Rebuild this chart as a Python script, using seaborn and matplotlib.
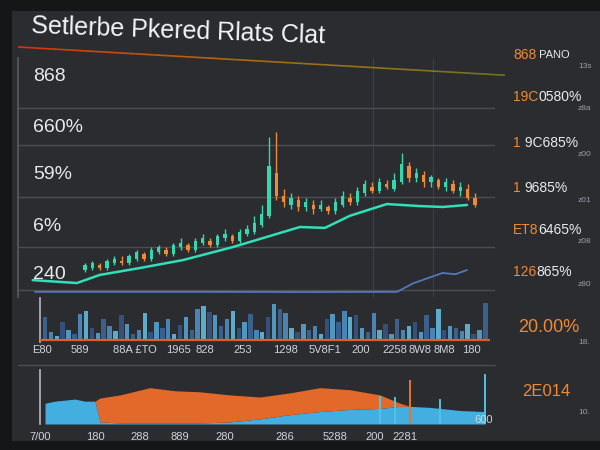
import numpy as np
import pandas as pd
import matplotlib
matplotlib.use("Agg")
import matplotlib.pyplot as plt
from matplotlib.patches import Rectangle
from matplotlib.collections import LineCollection
import seaborn as sns

title = "Setlerbe Pkered Rlats Clat"

# top panel - candles (index, value units)
c_open  = [9, 10, 11, 10, 12, 13, 12, 14, 16, 14, 17, 18, 16, 19, 20, 18, 21, 22, 20, 23,
           24, 22, 25, 26, 29, 33, 52, 42, 38, 40, 37, 38, 36, 37, 35, 38, 41, 39, 43, 46,
           44, 47, 45, 48, 55, 50, 51, 48, 49, 46, 47, 44, 45, 41]
c_close = [11, 12, 10, 13, 14, 12, 15, 17, 14, 18, 19, 16, 20, 21, 18, 22, 23, 20, 24, 25,
           22, 26, 27, 30, 34, 55, 42, 39, 41, 37, 39, 36, 38, 35, 39, 42, 39, 44, 47, 44,
           48, 46, 49, 56, 50, 52, 48, 50, 46, 48, 44, 46, 41, 38]
c_high  = [12, 13, 12, 14, 15, 15, 16, 18, 17, 19, 20, 19, 21, 23, 21, 23, 25, 23, 25, 27,
           25, 27, 29, 33, 38, 68, 70, 45, 43, 42, 41, 40, 40, 38, 41, 44, 43, 46, 49, 48,
           50, 49, 52, 61, 57, 54, 53, 51, 50, 50, 49, 48, 47, 43]
c_low   = [8, 9, 9, 9, 11, 11, 11, 13, 13, 13, 16, 15, 15, 18, 17, 17, 20, 19, 19, 22,
           21, 21, 24, 25, 28, 32, 40, 37, 36, 35, 35, 34, 35, 34, 34, 37, 38, 38, 42, 43,
           43, 45, 44, 47, 48, 48, 46, 46, 45, 44, 43, 42, 40, 37]

ma_x = [-7.1, -1.1, 2.0, 7.5, 13.3, 20.1, 24.7, 29.2, 32.6, 36.0, 41.0, 45.5, 48.6, 51.9]
ma_v = [4.4, 3.1, 6.7, 9.8, 13.3, 19.1, 23.6, 28.0, 27.6, 33.0, 38.2, 37.3, 36.9, 37.8]

blue_x = [-6.8, 15.6, 30.0, 42.4, 44.6, 48.6, 50.3, 51.9]
blue_v = [-0.8, -0.8, -0.9, -0.8, 3.0, 7.6, 7.0, 8.9]

y_labels = ["868", "660%", "59%", "6%", "240"]
y_label_pos = [95.6, 73.3, 52.0, 29.3, 8.0]
y_grid = [80.9, 64.4, 41.3, 19.1, 0.0]

# right column readouts
right_pre = ["868", "19C", "1", "1 ", "ET8", "126"]
right_suf = [" PANO", "0580%", " 9C685%", "9685%", "6465%", "865%"]
right_small = ["13s", "z8a", "z00", "z01", "z08", "z80"]

# middle panel - bars
mid_vals = [22, 8, 5, 18, 10, 6, 25, 28, 12, 7, 20, 14, 9, 24, 16, 6, 10, 26, 8, 18,
            12, 20, 6, 15, 22, 10, 30, 33, 27, 24, 14, 20, 28, 12, 18, 25, 10, 8, 22, 34,
            30, 26, 12, 8, 16, 10, 14, 6, 20, 25, 18, 28, 22, 24, 12, 8, 26, 10, 16, 6,
            20, 10, 14, 18, 8, 24, 12, 30, 10, 14, 12, 9, 16, 6, 10, 35]
mid_labels = ["E80", "589", "88A £TO", "1965", "828", "253", "1298", "5V8F1", "200",
              "2258", "8W8", "8M8", "180"]
mid_label_pos = [-0.5, 6, 15.3, 22.7, 27.3, 33.7, 40.9, 47.7, 53.7, 59.6, 63.9, 68.1, 72.7]

# bottom panel - areas
bot_x      = [45, 55, 65, 75, 85, 95, 100, 120, 150, 175, 200, 230, 260, 290, 320, 350,
              380, 400, 410, 430, 460, 485]
bot_blue   = [20, 22, 23, 24, 22, 22, 2, 1, 1, 1, 1, 2, 5, 9, 12, 14, 15, 17, 17, 16, 13, 12]
bot_orange = [20, 22, 23, 24, 22, 22, 25, 28, 35, 32, 31, 28, 26, 30, 35, 33, 28, 20, 17, 16, 13, 12]
spike_x = [380, 395, 410, 440, 485]
spike_h = [27, 26, 42, 24, 48]
spike_c = ["#4fc3e6", "#4fc3e6", "#e8742e", "#4fc3e6", "#4fc3e6"]
bot_labels = ["7/00", "180", "288", "889", "280", "286", "5288", "200", "2281"]
bot_label_pos = [40, 95, 140, 180, 225, 285, 335, 375, 405]

BG = "#2a2c30"
GRID = "#4a4d53"
TXT = "#e8eaee"
ORANGE = "#f08a32"
TEAL = "#33d8ac"

sns.set_theme(style="dark")
plt.rcParams["font.family"] = ["Liberation Sans", "DejaVu Sans"]

W, H = 600, 450
fig = plt.figure(figsize=(6, 4.5), dpi=100, facecolor="#151618")


def box(l, t, r, b):
    return [l / W, 1 - b / H, (r - l) / W, (b - t) / H]


fig.add_artist(Rectangle((12 / W, 0.02), 1, 0.955, transform=fig.transFigure,
                         facecolor=BG, edgecolor="none", zorder=-5))

fig.text(31 / W, 1 - 31 / H, title, color="#f4f5f7", fontsize=18, va="center",
         rotation=-2)

# orange header line
xs = np.linspace(18, 505, 30)
ys = 47 + (xs - 18) * 0.058
pts = np.column_stack([xs / W, 1 - ys / H])
segs = np.stack([pts[:-1], pts[1:]], axis=1)
cols = plt.get_cmap("autumn")(np.linspace(0.2, 0.95, len(segs)))
cols[:, 3] = np.linspace(0.85, 0.35, len(segs))
fig.add_artist(LineCollection(segs, colors=cols, linewidths=1.2, transform=fig.transFigure))

# --- top panel
ax = fig.add_axes(box(18, 58, 495, 297))
ax.set_facecolor("none")
idx = np.arange(len(c_open))
up = [c >= o for o, c in zip(c_open, c_close)]
colors = [TEAL if u else ORANGE for u in up]
ax.vlines(idx, c_low, c_high, colors=colors, lw=1.0, zorder=3)
ax.bar(idx, np.array(c_close) - np.array(c_open), bottom=c_open, width=0.45,
       color=colors, linewidth=0, zorder=3)
sns.lineplot(x=ma_x, y=ma_v, color="#2fe0b8", lw=1.8, ax=ax, zorder=4)
sns.lineplot(x=blue_x, y=blue_v, color="#5577bb", lw=1.3, ax=ax, zorder=2)
ax.set_xlim(-9.1, 55.7)
ax.set_ylim(-3.1, 103.1)
ax.set_yticks(y_label_pos, y_labels)
ax.set_yticks(y_grid, minor=True)
ax.tick_params(axis="y", which="both", length=0, pad=-11, labelcolor=TXT, labelsize=14)
for t in ax.get_yticklabels():
    t.set_ha("left")
ax.set_xticks([(373 - 85) / 7.36, (433 - 85) / 7.36])
ax.tick_params(axis="x", length=0, labelbottom=False)
ax.grid(False)
ax.grid(True, which="minor", axis="y", color=GRID, lw=1)
ax.grid(True, which="major", axis="x", color="#3c3f44", lw=0.8)
for s in ["top", "right", "bottom"]:
    ax.spines[s].set_visible(False)
ax.spines["left"].set_color("#55585e")
ax.set_xlabel("")
ax.set_ylabel("")

# right column readouts
for i, (p, s, sm) in enumerate(zip(right_pre, right_suf, right_small)):
    y = 1 - [55, 97, 143, 188, 230, 272][i] / H
    t = fig.text(513 / W, y, p, color=ORANGE, fontsize=10, va="center")
    ax.annotate(s, xy=(1, 0.5), xycoords=t, va="center", color=TXT,
                fontsize=10 if i else 8)
    fig.text(578 / W, y - 12 / H, sm, color="#9a9ea6", fontsize=6, va="center")

fig.text(518 / W, 1 - 328 / H, "20.00%", color=ORANGE, fontsize=13, va="center")
fig.text(578 / W, 1 - 342 / H, "18.", color="#9a9ea6", fontsize=6, va="center")
fig.text(522 / W, 1 - 392 / H, "2E014", color=ORANGE, fontsize=12, va="center")
fig.text(578 / W, 1 - 412 / H, "10.", color="#9a9ea6", fontsize=6, va="center")

# separator line
fig.add_artist(plt.Line2D([18 / W, 495 / W], [1 - 365 / H] * 2, color=GRID, lw=1,
                          transform=fig.transFigure))

# --- middle panel
ax2 = fig.add_axes(box(40, 298, 490, 342))
ax2.set_facecolor("none")
midx = list(range(len(mid_vals)))
blues = ["#2e5f9a", "#3a86c4", "#4bb3dc", "#2a4f86", "#3f9bd0"]
pal = [blues[i % len(blues)] for i in midx]
sns.barplot(x=midx, y=mid_vals, hue=[str(i) for i in midx], palette=pal,
            legend=False, width=0.75, linewidth=0, edgecolor="none", ax=ax2, zorder=3)
ax2.axhline(1, color="#d9622c", lw=1.6, zorder=4)
ax2.set_xlim(-0.85, 75.8)
ax2.set_ylim(-1, 40)
ax2.set_xticks(mid_label_pos, mid_labels)
ax2.tick_params(axis="x", length=0, labelsize=8, labelcolor="#cfd3d8", pad=2)
ax2.set_yticks([])
ax2.grid(False)
for s in ["top", "right", "bottom"]:
    ax2.spines[s].set_visible(False)
ax2.spines["left"].set_color("#aeb3ba")
ax2.set_xlabel("")
ax2.set_ylabel("")

# --- bottom panel
ax3 = fig.add_axes(box(40, 370, 495, 424))
ax3.set_facecolor("none")
bx = np.array(bot_x)
bb = np.array(bot_blue)
bo = np.array(bot_orange)
ax3.fill_between(bx, 0, bb, color="#43aee0", lw=0, zorder=2)
ax3.fill_between(bx, bb, bo, where=bo > bb, color="#e2692a", lw=0, zorder=2,
                 interpolate=True)
ax3.vlines(spike_x, 0, spike_h, colors=spike_c, lw=1.4, zorder=3)
ax3.set_xlim(40, 495)
ax3.set_ylim(0, 52)
ax3.set_xticks(bot_label_pos, bot_labels)
ax3.tick_params(axis="x", length=0, labelsize=8, labelcolor="#cfd3d8", pad=6)
ax3.set_yticks([])
ax3.grid(False)
for s in ["top", "right", "bottom"]:
    ax3.spines[s].set_visible(False)
ax3.spines["left"].set_color("#aeb3ba")
fig.text(474 / W, 1 - 420 / H, "600", color="#cfd3d8", fontsize=8, va="center")

fig.savefig("out.png", dpi=100, facecolor=fig.get_facecolor())
